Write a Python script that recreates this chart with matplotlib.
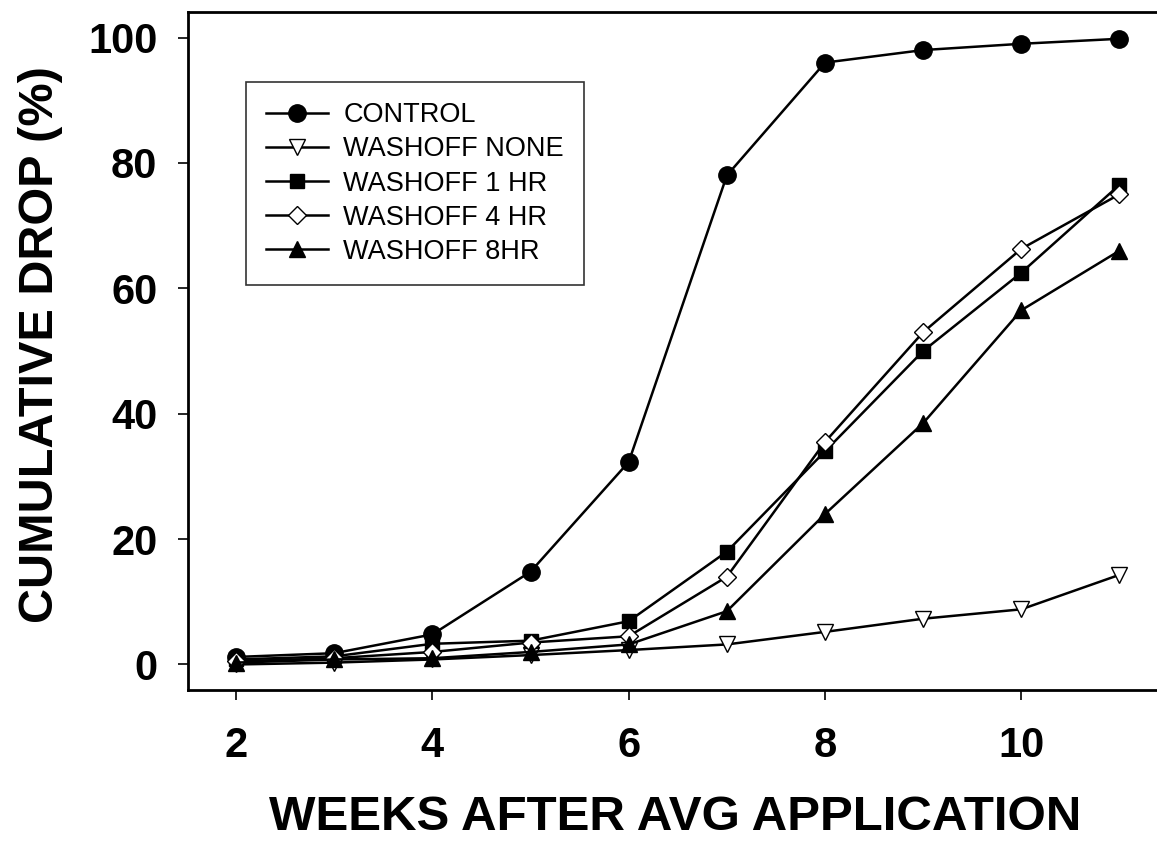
import matplotlib
matplotlib.use("Agg")
import matplotlib.pyplot as plt

weeks = [2, 3, 4, 5, 6, 7, 8, 9, 10, 11]
control = [1.2, 1.8, 4.8, 14.8, 32.3, 78.0, 96.0, 98.0, 99.0, 99.8]
wash_none = [0.0, 0.3, 0.8, 1.5, 2.3, 3.2, 5.2, 7.3, 8.8, 14.3]
wash_1hr = [0.8, 1.3, 3.3, 3.8, 6.9, 18.0, 34.0, 50.0, 62.5, 76.5]
wash_4hr = [0.5, 1.0, 2.0, 3.5, 4.5, 14.0, 35.5, 53.0, 66.3, 75.0]
wash_8hr = [0.3, 0.8, 1.0, 2.0, 3.2, 8.5, 24.0, 38.5, 56.5, 66.0]
labels = ["CONTROL", "WASHOFF NONE", "WASHOFF 1 HR", "WASHOFF 4 HR", "WASHOFF 8HR"]
xticks = [2, 4, 6, 8, 10]
yticks = [0, 20, 40, 60, 80, 100]

plt.rcParams['font.family'] = ['Liberation Sans', 'DejaVu Sans']

fig = plt.figure(figsize=(11.57, 8.44), dpi=100)
ax = fig.add_axes([188/1157, (844-690)/844, (1157-188)/1157 + 0.01, (690-12)/844])

lw = 1.8
ax.plot(weeks, control, color='black', lw=lw, marker='o', ms=12.5, mfc='black', mec='black', label=labels[0], zorder=3)
ax.plot(weeks, wash_none, color='black', lw=lw, marker='v', ms=12, mfc='white', mec='black', mew=1.0, label=labels[1], zorder=3)
ax.plot(weeks, wash_1hr, color='black', lw=lw, marker='s', ms=10, mfc='black', mec='black', label=labels[2], zorder=3)
ax.plot(weeks, wash_4hr, color='black', lw=lw, marker='D', ms=9, mfc='white', mec='black', mew=1.0, label=labels[3], zorder=3)
ax.plot(weeks, wash_8hr, color='black', lw=lw, marker='^', ms=11, mfc='black', mec='black', label=labels[4], zorder=3)

ax.set_xlim(1.51, 11.5)
ax.set_ylim(-4.07, 104.07)
ax.set_xticks(xticks)
ax.set_yticks(yticks)
ax.spines['right'].set_visible(False)
for s in ['left', 'bottom', 'top']:
    ax.spines[s].set_linewidth(2.0)
ax.tick_params(axis='both', direction='out', length=7, width=1.2, labelsize=30)
ax.tick_params(axis='x', pad=19)
ax.tick_params(axis='y', pad=15)
for t in ax.get_xticklabels() + ax.get_yticklabels():
    t.set_fontweight('bold')

ax.set_xlabel("WEEKS AFTER AVG APPLICATION", fontsize=35.5, fontweight='bold', labelpad=21)
ax.xaxis.label.set_x(0.497)
ax.set_ylabel("CUMULATIVE DROP (%)", fontsize=35, fontweight='bold', labelpad=18)
ax.yaxis.label.set_y(0.509)

leg = ax.legend(loc='upper left', bbox_to_anchor=(0.0588, 0.8968), borderaxespad=0,
                fontsize=19.5, frameon=True, fancybox=False, edgecolor='black',
                handlelength=2.3, handletextpad=0.55, borderpad=0.75, labelspacing=0.3)
leg.get_frame().set_linewidth(1.2)

fig.savefig("out.png", dpi=100)
